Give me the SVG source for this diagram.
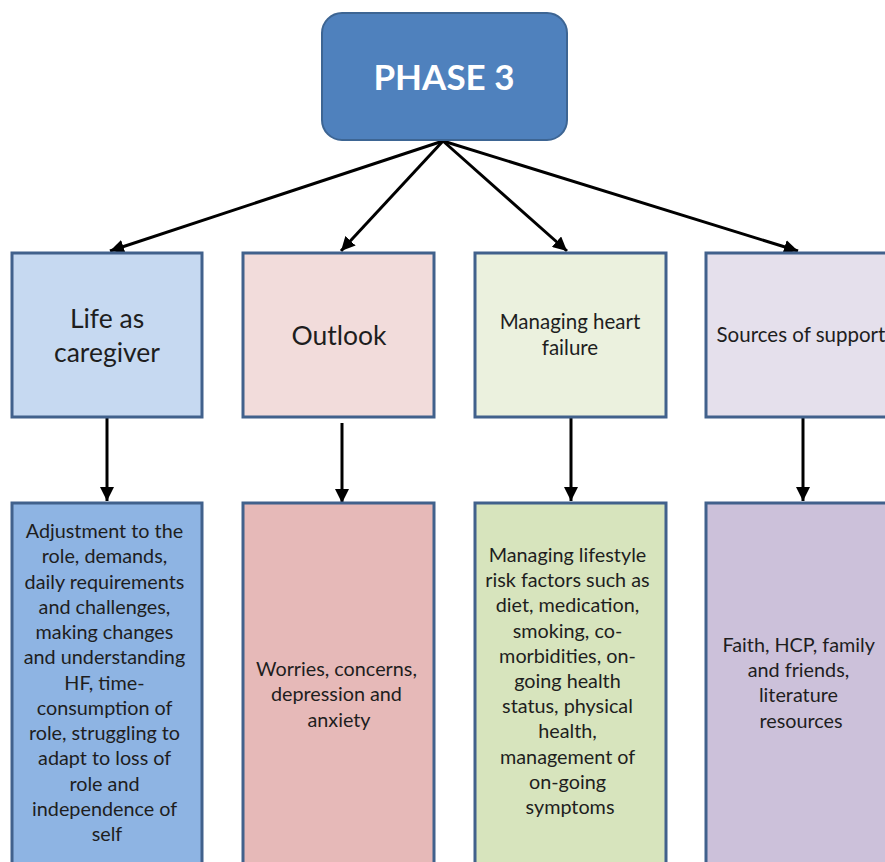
<svg xmlns="http://www.w3.org/2000/svg" width="885" height="862" viewBox="0 0 885 862">
<style>
.box{stroke:#41618c;stroke-width:3}
.t{font-family:Lato,"Open Sans","Liberation Sans",sans-serif;fill:#1e1e1e;text-anchor:middle}
.h{font-size:26.5px}
.m{font-size:20.5px}
.s{font-size:19.8px}
.c{stroke:#000;stroke-width:3;fill:none}
</style>
<defs>
<marker id="ah" viewBox="0 0 10 10" refX="10" refY="5" markerWidth="14" markerHeight="14" markerUnits="userSpaceOnUse" orient="auto">
<path d="M0,0 L10,5 L0,10 Z" fill="#000"/>
</marker>
</defs>
<rect width="885" height="862" fill="#fff"/>
<g id="connectors">
<line class="c" x1="443" y1="141" x2="110" y2="251" marker-end="url(#ah)"/>
<line class="c" x1="443" y1="141" x2="341" y2="251" marker-end="url(#ah)"/>
<line class="c" x1="443" y1="141" x2="567" y2="251" marker-end="url(#ah)"/>
<line class="c" x1="443" y1="141" x2="798" y2="251" marker-end="url(#ah)"/>
<line class="c" x1="107" y1="418" x2="107" y2="501" marker-end="url(#ah)"/>
<line class="c" x1="342" y1="423" x2="342" y2="503" marker-end="url(#ah)"/>
<line class="c" x1="571" y1="418" x2="571" y2="501" marker-end="url(#ah)"/>
<line class="c" x1="803" y1="418" x2="803" y2="501" marker-end="url(#ah)"/>
</g>
<g id="phase3">
<rect x="322" y="13" width="245" height="127" rx="20" ry="20" fill="#4f81bd" stroke="#3d6593" stroke-width="2"/>
<text x="444" y="90" font-family="Lato,'Open Sans','Liberation Sans',sans-serif" font-size="35" font-weight="bold" fill="#fff" text-anchor="middle">PHASE 3</text>
</g>
<g id="life">
<rect class="box" x="12" y="253" width="190" height="164" fill="#c6d9f1"/>
<text class="t h" x="107" y="328">Life as</text>
<text class="t h" x="107" y="362">caregiver</text>
</g>
<g id="outlook">
<rect class="box" x="243" y="253" width="191" height="164" fill="#f2dcdb"/>
<text class="t h" x="339" y="345">Outlook</text>
</g>
<g id="managing">
<rect class="box" x="475" y="253" width="191" height="164" fill="#ebf1de"/>
<text class="t m" x="570" y="329">Managing heart</text>
<text class="t m" x="570" y="355">failure</text>
</g>
<g id="support">
<rect class="box" x="706" y="253" width="191" height="164" fill="#e5e0ec"/>
<text class="t m" x="801" y="342">Sources of support</text>
</g>
<g id="life-detail">
<rect class="box" x="12" y="503" width="190" height="372" fill="#8eb4e3"/>
<text class="t s" x="107" y="538">
<tspan x="107" dy="0">Adjustment to the</tspan>
<tspan x="107" dy="25.25">role, demands,</tspan>
<tspan x="107" dy="25.25">daily requirements</tspan>
<tspan x="107" dy="25.25">and challenges,</tspan>
<tspan x="107" dy="25.25">making changes</tspan>
<tspan x="107" dy="25.25">and understanding</tspan>
<tspan x="107" dy="25.25">HF, time-</tspan>
<tspan x="107" dy="25.25">consumption of</tspan>
<tspan x="107" dy="25.25">role, struggling to</tspan>
<tspan x="107" dy="25.25">adapt to loss of</tspan>
<tspan x="107" dy="25.25">role and</tspan>
<tspan x="107" dy="25.25">independence of</tspan>
<tspan x="107" dy="25.25">self</tspan>
</text>
</g>
<g id="outlook-detail">
<rect class="box" x="243" y="503" width="191" height="372" fill="#e6b9b8"/>
<text class="t s" x="339" y="676">
<tspan x="339" dy="0">Worries, concerns,</tspan>
<tspan x="339" dy="25.25">depression and</tspan>
<tspan x="339" dy="25.25">anxiety</tspan>
</text>
</g>
<g id="managing-detail">
<rect class="box" x="475" y="503" width="191" height="372" fill="#d7e4bd"/>
<text class="t s" x="570" y="562">
<tspan x="570" dy="0">Managing lifestyle</tspan>
<tspan x="570" dy="25.2">risk factors such as</tspan>
<tspan x="570" dy="25.2">diet, medication,</tspan>
<tspan x="570" dy="25.2">smoking, co-</tspan>
<tspan x="570" dy="25.2">morbidities, on-</tspan>
<tspan x="570" dy="25.2">going health</tspan>
<tspan x="570" dy="25.2">status, physical</tspan>
<tspan x="570" dy="25.2">health,</tspan>
<tspan x="570" dy="25.2">management of</tspan>
<tspan x="570" dy="25.2">on-going</tspan>
<tspan x="570" dy="25.2">symptoms</tspan>
</text>
</g>
<g id="support-detail">
<rect class="box" x="706" y="503" width="191" height="372" fill="#ccc1da"/>
<text class="t s" x="801" y="652">
<tspan x="801" dy="0">Faith, HCP, family</tspan>
<tspan x="801" dy="25.2">and friends,</tspan>
<tspan x="801" dy="25.2">literature</tspan>
<tspan x="801" dy="25.2">resources</tspan>
</text>
</g>
</svg>
